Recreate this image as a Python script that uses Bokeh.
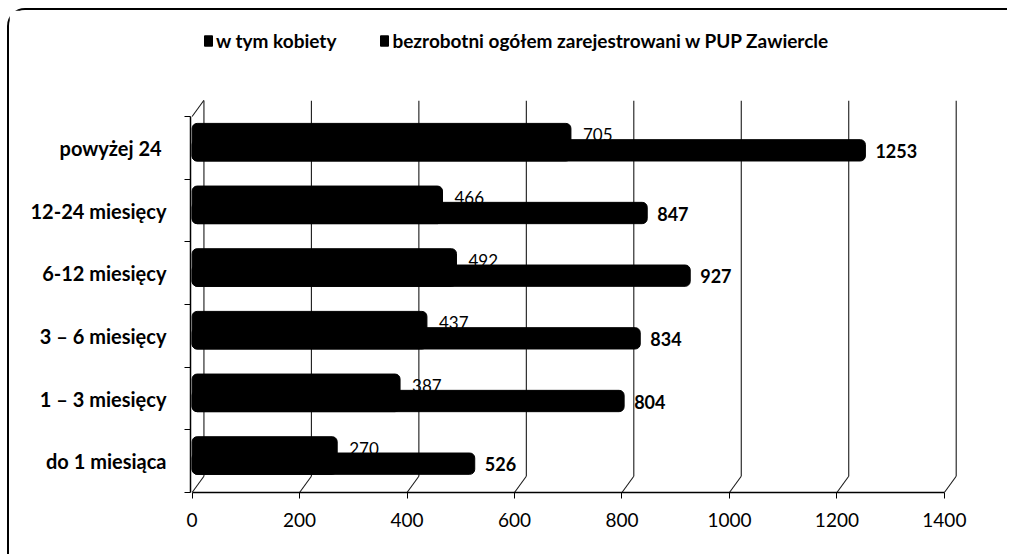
from bokeh.plotting import figure
from bokeh.models import FixedTicker, Legend, LegendItem, Range1d
from bokeh.core.properties import value
from bokeh.embed import file_html
from bokeh.resources import INLINE

# ---- data ----
categories = ["do 1 miesiąca", "1 – 3 miesięcy", "3 – 6 miesięcy",
              "6-12 miesięcy", "12-24 miesięcy", "powyżej  24"]
women = [270, 387, 437, 492, 466, 705]
total = [526, 804, 834, 927, 847, 1253]
x_ticks = [0, 200, 400, 600, 800, 1000, 1200, 1400]
series_names = ["w tym kobiety", "bezrobotni ogółem zarejestrowani w PUP Zawiercle"]

FONT = "Lato"
pos = list(range(len(categories)))

p = figure(width=1000, height=546, output_backend="svg", toolbar_location=None,
           x_range=Range1d(-3, 1430), y_range=Range1d(-0.5, 7.0),
           min_border_left=181, min_border_right=49, min_border_top=12,
           min_border_bottom=64)
p.outline_line_color = None
p.background_fill_color = "white"
p.border_fill_color = "white"
p.xgrid.visible = False
p.ygrid.visible = False
p.styles = {"margin-top": "8px", "margin-left": "7px",
            "border-top": "2px solid black", "border-left": "2px solid black",
            "border-top-left-radius": "18px"}

# pseudo-3D back wall gridlines, derived from the tick values
dx, dy = 22, 0.26
ylo, yhi = -0.5, 5.75
p.segment(x0=x_ticks, y0=[ylo] * len(x_ticks), x1=[v + dx for v in x_ticks],
          y1=[ylo + dy] * len(x_ticks), line_color="#1a1a1a", line_width=1.1)
p.segment(x0=[v + dx for v in x_ticks], y0=[ylo + dy] * len(x_ticks),
          x1=[v + dx for v in x_ticks], y1=[yhi] * len(x_ticks),
          line_color="#1a1a1a", line_width=1.1)
p.segment(x0=[0], y0=[pos[-1] + 0.5], x1=[dx], y1=[pos[-1] + 0.5 + dy],
          line_color="#1a1a1a", line_width=1.1)

# women bars (behind)
r_w = p.hbar(y=[i + 0.09 for i in pos], height=0.60, left=0, right=women,
             fill_color="black", line_color="black", border_radius=5)
p.text(x=women, y=[i + 0.205 for i in pos], text=[str(v) for v in women],
       x_offset=12, text_baseline="middle", text_align="left",
       text_font=value(FONT), text_font_size="17px", text_color="black")

# total bars (front)
r_t = p.hbar(y=[i - 0.04 for i in pos], height=0.34, left=0, right=total,
             fill_color="black", line_color="black", border_radius=5)
p.text(x=total, y=[i - 0.05 for i in pos], text=[str(v) for v in total],
       x_offset=10, text_baseline="middle", text_align="left",
       text_font=value(FONT), text_font_size="18px", text_font_style="bold",
       text_color="black")

# axes
xa = p.xaxis[0]
xa.ticker = FixedTicker(ticks=x_ticks)
xa.bounds = (x_ticks[0], x_ticks[-1])
xa.major_tick_out = 6
xa.major_tick_in = 0
xa.minor_tick_out = 0
xa.axis_line_width = 1.5
xa.major_label_standoff = 14
xa.major_label_text_font = FONT
xa.major_label_text_font_size = "19px"
xa.major_label_text_color = "black"

ya = p.yaxis[0]
ya.ticker = FixedTicker(ticks=pos, minor_ticks=[i - 0.5 for i in pos] + [pos[-1] + 0.5])
ya.major_label_overrides = {i: c for i, c in zip(pos, categories)}
ya.bounds = (pos[0] - 0.5, pos[-1] + 0.5)
ya.major_tick_out = 0
ya.major_tick_in = 0
ya.minor_tick_out = 6
ya.minor_tick_in = 0
ya.axis_line_width = 1.5
ya.major_label_standoff = 18
ya.major_label_text_font = FONT
ya.major_label_text_font_size = "20px"
ya.major_label_text_font_style = "bold"
ya.major_label_text_color = "black"

legend = Legend(items=[LegendItem(label=series_names[0], renderers=[r_w]),
                       LegendItem(label=series_names[1], renderers=[r_t])],
                location=(13, 440), orientation="horizontal", spacing=43,
                label_standoff=3, glyph_width=10, glyph_height=13, padding=0,
                margin=0, border_line_color=None, background_fill_alpha=0,
                label_text_font=FONT, label_text_font_size="19px",
                label_text_font_style="bold", label_text_color="black")
p.add_layout(legend)

open("out.html", "w").write(file_html(p, INLINE))
